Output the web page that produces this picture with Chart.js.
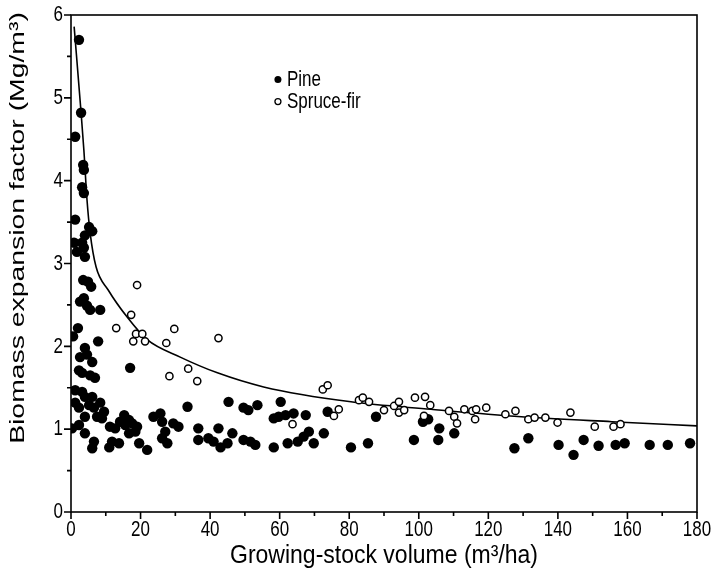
<!DOCTYPE html>
<html>
<head>
<meta charset="utf-8">
<script src="https://cdn.jsdelivr.net/npm/chart.js@4.4.0/dist/chart.umd.min.js"></script>
<style>
  html, body { margin: 0; padding: 0; background: #fff; }
  #wrap { width: 719px; height: 571px; }
</style>
</head>
<body>
<div id="wrap"><canvas id="mycanvas" width="719" height="571"></canvas></div>
<script>
// Pine (filled dots)
var pineX = [2.3, 2.9, 1.2, 3.5, 3.7, 3.2, 3.7, 1.2, 5.2, 6.1, 4.0, 0.9, 3.2, 3.7, 1.7, 4.0,
  3.5, 4.9, 5.8, 3.7, 2.6, 4.6, 5.5, 8.4, 2.0, 0.6, 7.8, 4.0, 2.6, 4.6, 6.1, 17.0,
  3.2, 5.5, 6.9, 2.3, 1.2, 3.2, 4.0, 6.1, 1.2, 2.3, 5.2, 6.6, 8.4, 9.5, 7.5, 8.9,
  4.0, 2.3, 0.3, 4.0, 6.6, 6.1, 11.2, 12.7, 11.8, 13.8, 11.0, 15.3, 16.7, 14.1, 15.6,
  17.6, 19.0, 16.7, 18.5, 19.6,
  23.7, 25.7, 26.2, 29.4, 30.9, 27.1, 26.2, 27.7, 21.9, 33.5, 36.6, 36.6, 39.5, 42.4,
  41.0, 43.0, 45.0, 46.4, 45.3, 49.6, 51.0, 53.6, 49.6, 51.6, 53.0, 60.3, 58.3, 59.7,
  61.7, 64.0, 67.5, 73.8, 58.3, 62.3, 65.2, 66.9, 68.4, 69.8, 72.7,
  87.7, 80.5, 85.4, 98.6, 101.2, 102.7, 105.9, 105.6, 110.2, 127.5,
  131.5, 140.2, 144.5, 147.4, 151.7, 156.6, 159.2, 166.4, 171.6, 178.0];
var pineY = [5.70, 4.82, 4.53, 4.19, 4.13, 3.92, 3.85, 3.53, 3.44, 3.39, 3.34, 3.25, 3.25, 3.19, 3.14, 3.08,
  2.80, 2.78, 2.72, 2.58, 2.54, 2.49, 2.44, 2.44, 2.22, 2.12, 2.06, 1.98, 1.87, 1.90, 1.81, 1.74,
  1.68, 1.65, 1.62, 1.71, 1.47, 1.45, 1.39, 1.39, 1.32, 1.26, 1.29, 1.26, 1.32, 1.21, 1.15, 1.13,
  1.15, 1.05, 1.01, 0.95, 0.85, 0.77, 1.03, 1.01, 0.85, 0.83, 0.78, 1.17, 1.11, 1.09, 1.05,
  1.07, 1.03, 0.95, 0.97, 0.83,
  1.15, 1.19, 1.09, 1.07, 1.03, 0.97, 0.89, 0.83, 0.75, 1.27, 1.01, 0.87, 0.89, 1.01,
  0.85, 0.78, 0.83, 0.95, 1.33, 1.26, 1.23, 1.29, 0.87, 0.85, 0.81, 1.33, 1.13, 1.15,
  1.17, 1.19, 1.17, 1.21, 0.78, 0.83, 0.85, 0.91, 0.97, 0.83, 0.95,
  1.15, 0.78, 0.83, 0.87, 1.09, 1.12, 1.01, 0.87, 0.95, 0.77,
  0.89, 0.81, 0.69, 0.87, 0.80, 0.81, 0.83, 0.81, 0.81, 0.83];

// Spruce-fir (open circles)
var spruceX = [19.0, 17.3, 13.0, 18.7, 20.5, 17.9, 21.3, 27.4, 29.7, 28.3, 42.4, 33.7, 36.3,
  63.7, 72.4, 73.8, 75.6, 77.0, 82.8, 83.9, 85.7, 90.0, 92.9, 94.3, 94.3, 95.8, 98.9,
  101.8, 103.3, 101.5, 108.7, 110.2, 111.0, 113.1, 115.4, 116.5, 116.2, 119.4, 124.9,
  127.8, 131.5, 133.3, 136.4, 139.9, 143.6, 150.6, 156.0, 158.0];
var spruceY = [2.74, 2.38, 2.22, 2.15, 2.15, 2.06, 2.06, 2.04, 2.21, 1.64, 2.10, 1.73, 1.58,
  1.06, 1.48, 1.53, 1.16, 1.24, 1.35, 1.38, 1.33, 1.23, 1.28, 1.33, 1.20, 1.23, 1.38,
  1.39, 1.29, 1.16, 1.22, 1.15, 1.07, 1.24, 1.22, 1.24, 1.12, 1.26, 1.18,
  1.22, 1.12, 1.14, 1.14, 1.08, 1.20, 1.03, 1.03, 1.06];

// fitted curve
var curveX = [0.9, 2.9, 3.7, 4.6, 5.5, 7.2, 10.7, 16.2, 21.9, 31.4, 42.1, 55.4, 80.5, 103.5, 129.5, 155.5, 180];
var curveY = [5.86, 4.82, 4.37, 3.77, 3.37, 2.96, 2.68, 2.35, 2.08, 1.87, 1.68, 1.51, 1.33, 1.24, 1.15, 1.09, 1.04];

var xTicks = [0, 20, 40, 60, 80, 100, 120, 140, 160, 180];
var yTicks = [0, 1, 2, 3, 4, 5, 6];
var xTitle = 'Growing-stock volume (m³/ha)';
var yTitle = 'Biomass expansion factor (Mg/m³)';

function pts(xs, ys) {
	var out = [];
	for (var i in xs) out.push({x: xs[i], y: ys[i]});
	return out;
}

var FONT = "'Liberation Sans', Arial, sans-serif";

// the source figure's lettering is tall and narrow, so text is drawn scaled
function txt(c, s, x, y, size, sx, sy, rot, align) {
	c.save();
	c.translate(x, y);
	if (rot) c.rotate(rot);
	c.scale(sx, sy);
	c.font = size + 'px ' + FONT;
	c.textAlign = align || 'center';
	c.textBaseline = 'middle';
	c.fillStyle = '#000';
	c.fillText(s, 0, 0);
	c.restore();
}

// box, tick marks, labels and the in-plot legend
var decor = {
	id: 'decor',
	afterDraw: function(chart) {
		var c = chart.ctx, a = chart.chartArea;
		var xs = chart.scales.x, ys = chart.scales.y;
		c.save();
		c.strokeStyle = '#000';
		c.lineWidth = 1.6;
		c.strokeRect(a.left, a.top, a.right - a.left, a.bottom - a.top);
		c.beginPath();
		for (var v = 0; v <= 180; v += 10) {
			var px = xs.getPixelForValue(v);
			c.moveTo(px, a.bottom);
			c.lineTo(px, a.bottom + (v % 20 === 0 ? 7 : 4));
		}
		for (var w = 0; w <= 6; w += 0.5) {
			var py = ys.getPixelForValue(w);
			c.moveTo(a.left, py);
			c.lineTo(a.left - (w % 1 === 0 ? 7 : 4), py);
		}
		c.stroke();
		c.restore();

		xTicks.forEach(function(v) {
			txt(c, String(v), xs.getPixelForValue(v), a.bottom + 18, 17, 1, 1.35);
		});
		yTicks.forEach(function(v) {
			txt(c, String(v), a.left - 8, ys.getPixelForValue(v), 17, 1, 1.35, 0, 'right');
		});
		txt(c, xTitle, (a.left + a.right) / 2, 556, 23, 1, 1.15);
		txt(c, yTitle, 18, 228, 21, 1.35, 1, -Math.PI / 2);

		// legend
		var lx = xs.getPixelForValue(59.5), ly = ys.getPixelForValue(5.22);
		c.save();
		c.fillStyle = '#000';
		c.strokeStyle = '#000';
		c.beginPath();
		c.arc(lx, ly, 3.5, 0, Math.PI * 2);
		c.fill();
		txt(c, chart.data.datasets[0].label, lx + 9, ly + 1, 17, 1, 1.25, 0, 'left');
		ly += 22;
		c.beginPath();
		c.lineWidth = 1.3;
		c.arc(lx, ly, 3, 0, Math.PI * 2);
		c.stroke();
		c.restore();
		txt(c, chart.data.datasets[1].label, lx + 9, ly + 1, 17, 1, 1.25, 0, 'left');
	}
};

var ctx = document.getElementById('mycanvas');

var chart = new Chart(ctx, {
	type: 'scatter',
	data: {
		datasets: [
			{
				label: 'Pine',
				data: pts(pineX, pineY),
				pointRadius: 5.2,
				pointBackgroundColor: '#000',
				pointBorderColor: '#000',
				pointBorderWidth: 0,
				order: 2
			},
			{
				label: 'Spruce-fir',
				data: pts(spruceX, spruceY),
				pointRadius: 3.6,
				pointBackgroundColor: '#fff',
				pointBorderColor: '#000',
				pointBorderWidth: 1.5,
				order: 1
			},
			{
				label: 'fit',
				type: 'line',
				data: pts(curveX, curveY),
				borderColor: '#000',
				borderWidth: 1.6,
				pointRadius: 0,
				cubicInterpolationMode: 'monotone',
				fill: false,
				order: 3
			}
		]
	},
	options: {
		responsive: false,
		animation: false,
		layout: { padding: { top: 15, right: 22, left: 0, bottom: 0 } },
		plugins: {
			legend: { display: false },
			tooltip: { enabled: false }
		},
		scales: {
			x: {
				type: 'linear',
				min: 0, max: 180,
				afterFit: function(s) { s.height = 59; },
				grid: { display: false, drawTicks: false },
				border: { display: false },
				ticks: { display: false }
			},
			y: {
				type: 'linear',
				min: 0, max: 6,
				afterFit: function(s) { s.width = 71; },
				grid: { display: false, drawTicks: false },
				border: { display: false },
				ticks: { display: false }
			}
		}
	},
	plugins: [decor]
});
</script>
</body>
</html>
